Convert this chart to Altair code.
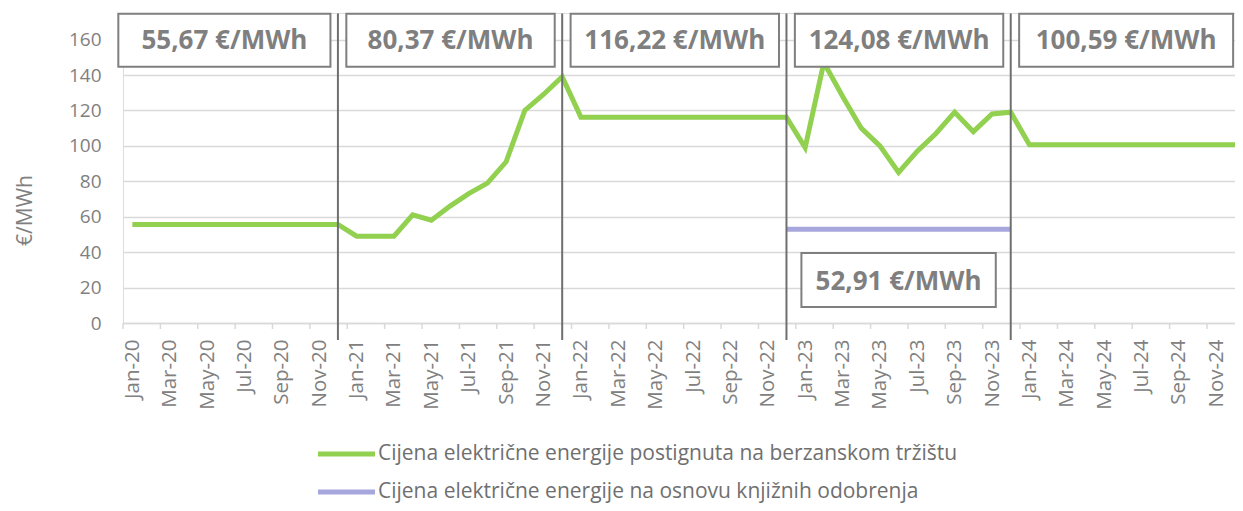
import json
import altair as alt
import pandas as pd

# ---------------- data ----------------
month_names = ["Jan", "Feb", "Mar", "Apr", "May", "Jun",
               "Jul", "Aug", "Sep", "Oct", "Nov", "Dec"]
years = ["20", "21", "22", "23", "24"]
months = [f"{m}-{y}" for y in years for m in month_names]

exchange_price = [
    # 2020
    55.67, 55.67, 55.67, 55.67, 55.67, 55.67, 55.67, 55.67, 55.67, 55.67, 55.67, 55.67,
    # 2021
    49, 49, 49, 61, 58, 66, 73, 79, 91, 120, 129, 139,
    # 2022
    116.22, 116.22, 116.22, 116.22, 116.22, 116.22, 116.22, 116.22, 116.22, 116.22, 116.22, 116.22,
    # 2023
    99, 147, 128, 110, 100, 85, 97, 107, 119, 108, 118, 119,
    # 2024
    100.59, 100.59, 100.59, 100.59, 100.59, 100.59, 100.59, 100.59, 100.59, 100.59, 100.59, 100.59,
]

book_months = ["Dec-22", "Dec-23"]
book_price = [52.91, 52.91]

separator_months = ["Dec-20", "Dec-21", "Dec-22", "Dec-23"]
period_labels = ["55,67 €/MWh", "80,37 €/MWh", "116,22 €/MWh", "124,08 €/MWh", "100,59 €/MWh"]
book_label = "52,91 €/MWh"

series_names = [
    "Cijena električne energije postignuta na berzanskom tržištu",
    "Cijena električne energije na osnovu knjižnih odobrenja",
]
series_colors = ["#92d050", "#a7a7de"]

y_ticks = [0, 20, 40, 60, 80, 100, 120, 140, 160]

# ---------------- styling ----------------
FONT = "Open Sans"
GRAY = "#7f7f7f"
LABEL_GRAY = "#808080"
GRID = "#d9d9d9"
PLOT_W, PLOT_H = 1112, 310
X_DOMAIN = [-0.5, 59]
Y_DOMAIN = [0, 175]

xs = alt.Scale(domain=X_DOMAIN, nice=False, zero=False)
ys = alt.Scale(domain=Y_DOMAIN, nice=False, zero=True)

label_array = json.dumps(months)

X_AXIS = alt.Axis(values=list(range(0, len(months), 2)),
                  labelExpr=f"{label_array}[datum.value]",
                  title=None, grid=False, ticks=False,
                  domain=True, domainColor=GRID, domainWidth=1.5,
                  labelAngle=270, labelAlign="right", labelBaseline="middle",
                  labelPadding=16, labelFont=FONT, labelFontSize=20.5,
                  labelColor=LABEL_GRAY, labelOverlap=False, labelFlush=False,
                  labelBound=False)
Y_AXIS = alt.Axis(values=y_ticks, title="€/MWh", grid=True, gridColor=GRID,
                  gridWidth=1.5, ticks=False, domain=False,
                  labelPadding=22, labelFont=FONT, labelFontSize=19,
                  labelColor=LABEL_GRAY,
                  titleFont=FONT, titleFontSize=21, titleFontWeight="normal",
                  titleColor=GRAY, titleAngle=270, titleX=-98, titleY=197,
                  titleAlign="center", titleBaseline="middle")


def X(field):
    return alt.X(field, scale=xs, axis=X_AXIS)


def Y(field):
    return alt.Y(field, scale=ys, axis=Y_AXIS)


idx = {m: i for i, m in enumerate(months)}

line_df = pd.DataFrame({"i": list(range(len(months))), "v": exchange_price})
book_df = pd.DataFrame({"i": [idx[m] for m in book_months], "v": book_price})

sep_idx = [idx[m] for m in separator_months]
sep_df = pd.DataFrame({"i": sep_idx, "v": [-9.6] * len(sep_idx), "v2": [174.7] * len(sep_idx)})

starts = [-1.2] + sep_idx
ends = sep_idx + [59.3]
box_df = pd.DataFrame({
    "i": [s + 0.45 for s in starts],
    "i2": [e - 0.4 for e in ends],
    "v": [144.6] * 5,
    "v2": [174.6] * 5,
    "label": period_labels,
})
box_df["ic"] = (box_df["i"] + box_df["i2"]) / 2
box_df["vc"] = 159.4

book_box_df = pd.DataFrame({
    "i": [idx[book_months[0]] + 0.8],
    "i2": [idx[book_months[1]] - 0.8],
    "v": [9.0],
    "v2": [39.5],
    "label": [book_label],
})
book_box_df["ic"] = (book_box_df["i"] + book_box_df["i2"]) / 2
book_box_df["vc"] = 23.2

tick_df = pd.DataFrame({"i": [k - 0.5 for k in range(0, len(months), 2)]})
tick_df["v"] = 0.0
tick_df["v2"] = -3.4

# ---------------- layers ----------------
grid_base = alt.Chart(line_df).mark_line(opacity=0).encode(x=X("i:Q"), y=Y("v:Q"))

ticks = alt.Chart(tick_df).mark_rule(color=GRID, strokeWidth=1.5).encode(
    x=X("i:Q"), y=Y("v:Q"), y2="v2:Q")

separators = alt.Chart(sep_df).mark_rule(color="#6f6f6f", strokeWidth=2).encode(
    x=X("i:Q"), y=Y("v:Q"), y2="v2:Q")

green = alt.Chart(line_df).mark_line(color=series_colors[0], strokeWidth=5).encode(
    x=X("i:Q"), y=Y("v:Q"))

purple = alt.Chart(book_df).mark_line(color=series_colors[1], strokeWidth=5).encode(
    x=X("i:Q"), y=Y("v:Q"))


def boxes(df):
    rect = alt.Chart(df).mark_rect(fill="white", stroke=GRAY, strokeWidth=2).encode(
        x=X("i:Q"), x2="i2:Q", y=Y("v:Q"), y2="v2:Q")
    txt = alt.Chart(df).mark_text(font=FONT, fontSize=26, fontWeight="bold",
                                  color=GRAY, align="center", baseline="middle").encode(
        x=X("ic:Q"), y=Y("vc:Q"), text="label:N")
    return rect + txt


# manual legend (below plot)
legend_layers = []
for k, (name, col) in enumerate(zip(series_names, series_colors)):
    ly = 441 + 38 * k
    ldf = pd.DataFrame({"name": [name]})
    legend_layers.append(
        alt.Chart(ldf).mark_rule(color=col, strokeWidth=5).encode(
            x=alt.value(195), x2=alt.value(252), y=alt.value(ly))
    )
    legend_layers.append(
        alt.Chart(ldf).mark_text(font=FONT, fontSize=21, color="#6f6f6f",
                                 align="left", baseline="middle").encode(
            x=alt.value(255), y=alt.value(ly), text="name:N")
    )

chart = alt.layer(
    grid_base, ticks, green, purple, separators,
    boxes(box_df), boxes(book_box_df), *legend_layers
).properties(
    width=PLOT_W, height=PLOT_H,
    autosize=alt.AutoSizeParams(type="none"),
    padding={"left": 115, "top": 5, "right": 0, "bottom": 180},
).configure_view(stroke=None).configure(background="white")

chart.save("out.html", embed_options={"renderer": "svg", "actions": False})
